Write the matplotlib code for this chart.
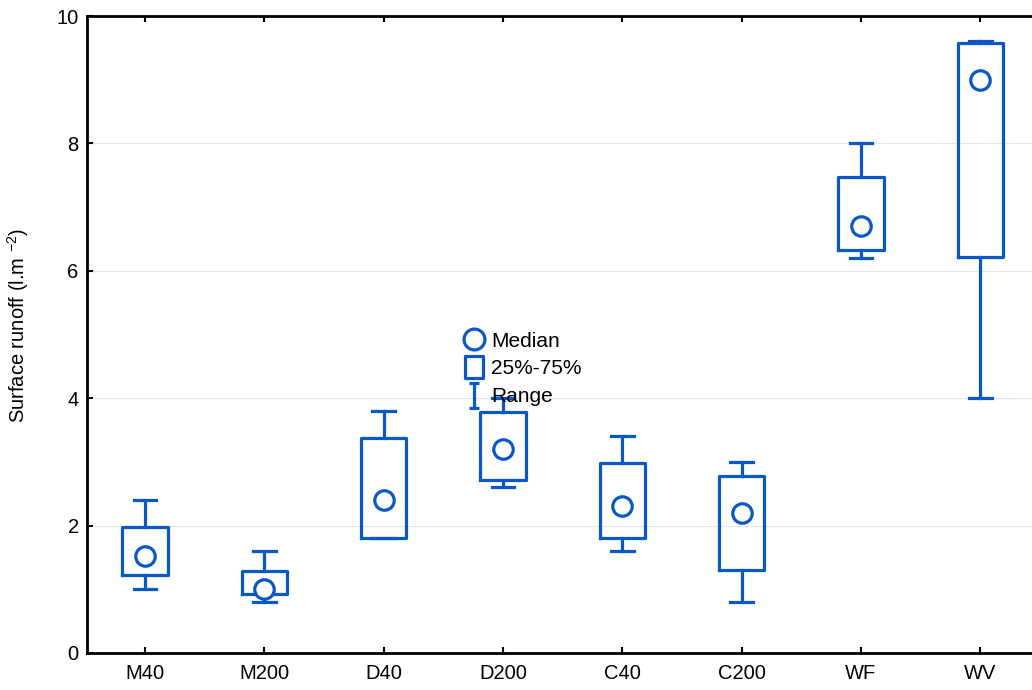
import matplotlib
matplotlib.use("Agg")
import matplotlib.pyplot as plt
from matplotlib.lines import Line2D
from matplotlib.path import Path

categories = ["M40", "M200", "D40", "D200", "C40", "C200", "WF", "WV"]
medians = [1.52, 1.0, 2.4, 3.2, 2.3, 2.2, 6.7, 9.0]
q1 = [1.22, 0.92, 1.8, 2.72, 1.8, 1.3, 6.32, 6.22]
q3 = [1.98, 1.28, 3.38, 3.78, 2.98, 2.78, 7.48, 9.58]
mins = [1.0, 0.8, 1.8, 2.6, 1.6, 0.8, 6.2, 4.0]
maxs = [2.4, 1.6, 3.8, 4.0, 3.4, 3.0, 8.0, 9.6]
yticks = [0, 2, 4, 6, 8, 10]

BLUE = "#0a58c6"
plt.rcParams['font.family'] = ['Liberation Sans', 'DejaVu Sans']
plt.rcParams['mathtext.fontset'] = 'custom'
plt.rcParams['mathtext.rm'] = 'Liberation Sans'
plt.rcParams['mathtext.it'] = 'Liberation Sans'

fig = plt.figure(figsize=(10.32, 6.9), dpi=100)
ax = fig.add_axes([87/1032, 37/690, 947/1032, 637/690])

positions = list(range(1, len(categories) + 1))
stats = []
for i in range(len(categories)):
    stats.append(dict(med=medians[i], q1=q1[i], q3=q3[i],
                      whislo=mins[i], whishi=maxs[i], fliers=[]))

ax.bxp(stats, positions=positions, widths=0.38, capwidths=0.19,
       showfliers=False,
       boxprops=dict(color=BLUE, linewidth=2.3),
       whiskerprops=dict(color=BLUE, linewidth=2.3),
       capprops=dict(color=BLUE, linewidth=2.3),
       medianprops=dict(linewidth=0))
ax.plot(positions, medians, linestyle='none', marker='o', markersize=14,
        markerfacecolor='white', markeredgecolor=BLUE, markeredgewidth=2.3, zorder=5)

ax.set_xlim(0.514, 8.45)
ax.set_ylim(0, 10)
ax.set_yticks(yticks)
ax.set_xticks(positions)
ax.set_xticklabels(categories)
ax.tick_params(axis='both', direction='in', labelsize=14.5, width=1.5, length=4,
               top=True, right=False, color='black')
ax.tick_params(axis='x', pad=8)
ax.tick_params(axis='y', pad=6)
ax.yaxis.grid(True, color='#e6e6e6', linewidth=0.8)
ax.set_axisbelow(True)
for s in ['left', 'bottom', 'top']:
    ax.spines[s].set_linewidth(2.0)
ax.spines['right'].set_visible(False)

ax.set_ylabel('Surface runoff (l.m $^{-2}$)', fontsize=14.5)
ax.yaxis.set_label_coords((31 - 87) / 947, 0.515)

ibeam = Path([(-0.4, 1), (0.4, 1), (0, 1), (0, -1), (-0.4, -1), (0.4, -1)],
             [Path.MOVETO, Path.LINETO, Path.MOVETO, Path.LINETO, Path.MOVETO, Path.LINETO])
rect = Path([(-0.4, -0.5), (0.4, -0.5), (0.4, 0.5), (-0.4, 0.5), (-0.4, -0.5)],
            [Path.MOVETO, Path.LINETO, Path.LINETO, Path.LINETO, Path.CLOSEPOLY])
handles = [
    Line2D([], [], linestyle='none', marker='o', markersize=15, markerfacecolor='white',
           markeredgecolor=BLUE, markeredgewidth=2.3),
    Line2D([], [], linestyle='none', marker=rect, markersize=15.5, markerfacecolor='white',
           markeredgecolor=BLUE, markeredgewidth=2.3),
    Line2D([], [], linestyle='none', marker=ibeam, markersize=18, markerfacecolor='none',
           markeredgecolor=BLUE, markeredgewidth=2.3),
]
leg = ax.legend(handles, ["Median", "25%-75%", "Range"], loc='center left',
                bbox_to_anchor=((465 - 87) / 947, (653 - 369) / 637), frameon=False,
                fontsize=15, handlelength=0.9, handletextpad=0.35, labelspacing=0.42,
                borderaxespad=0, borderpad=0)

fig.savefig("out.png", dpi=100)
